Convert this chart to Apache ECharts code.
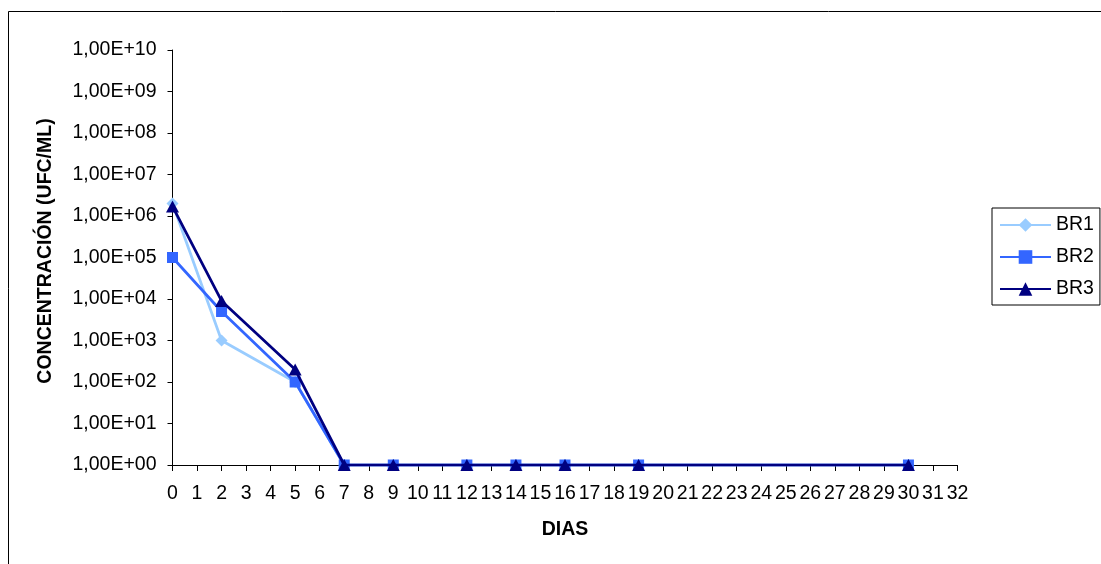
<!DOCTYPE html>
<html>
<head>
<meta charset="utf-8">
<style>
  html, body { margin: 0; padding: 0; background: #fff; }
  #chart { width: 1101px; height: 564px; }
</style>
<script src="https://cdn.jsdelivr.net/npm/echarts@6/dist/echarts.min.js"></script>
</head>
<body>
<div id="chart"></div>
<script>
// Sampling days and bacterial counts (UFC/ML) for each reactor
const days = [0, 2, 5, 7, 9, 12, 14, 16, 19, 30];
const br1 = [2.0e6, 1000, 100, 1, 1, 1, 1, 1, 1, 1];
const br2 = [1.0e5, 5000, 100, 1, 1, 1, 1, 1, 1, 1];
const br3 = [1.7e6, 9000, 200, 1, 1, 1, 1, 1, 1, 1];
const seriesNames = ['BR1', 'BR2', 'BR3'];
const xTitle = 'DIAS';
const yTitle = 'CONCENTRACIÓN (UFC/ML)';

const FONT = '"Liberation Sans", Arial, sans-serif';

function sciLabel(v) {
  const e = Math.round(Math.log10(v));
  return '1,00E+' + (e < 10 ? '0' + e : String(e));
}

function pairs(vals) {
  return days.map((d, i) => [d, vals[i]]);
}

const chart = echarts.init(document.getElementById('chart'), null, { renderer: 'canvas' });

const option = {
  animation: false,
  backgroundColor: '#ffffff',
  textStyle: { fontFamily: FONT },
  grid: { left: 172.5, right: 143.5, top: 50, bottom: 99 },
  graphic: [
    {
      type: 'rect',
      shape: { x: 8.5, y: 11.5, width: 1200, height: 1000 },
      style: { fill: 'none', stroke: '#000', lineWidth: 1 },
      silent: true
    },
    {
      type: 'text',
      x: 565, y: 530,
      style: {
        text: xTitle, fontFamily: FONT, fontSize: 19.5, fontWeight: 'bold',
        fill: '#000', align: 'center', verticalAlign: 'middle'
      }
    },
    {
      type: 'text',
      x: 45.5, y: 251,
      rotation: Math.PI / 2,
      style: {
        text: yTitle, fontFamily: FONT, fontSize: 19.5, fontWeight: 'bold',
        fill: '#000', align: 'center', verticalAlign: 'middle'
      }
    }
  ],
  legend: {
    orient: 'vertical',
    left: 992, top: 208,
    width: 100,
    padding: [7, 6, 6, 7],
    borderColor: '#000',
    borderWidth: 1,
    itemWidth: 51,
    itemHeight: 17,
    itemGap: 12,
    textStyle: { fontFamily: FONT, fontSize: 19.5, color: '#000', padding: [0, 0, 0, 0] },
    data: seriesNames
  },
  xAxis: {
    type: 'value',
    min: 0, max: 32, interval: 1,
    axisLine: { show: true, lineStyle: { color: '#000', width: 1 } },
    axisTick: { show: true, inside: false, length: 6, lineStyle: { color: '#000' } },
    axisLabel: { color: '#000', fontFamily: FONT, fontSize: 19.5, margin: 19 },
    splitLine: { show: false }
  },
  yAxis: {
    type: 'log',
    logBase: 10,
    min: 1, max: 1e10,
    interval: 1,
    axisLine: { show: true, lineStyle: { color: '#000', width: 1 } },
    axisTick: { show: true, inside: false, length: 5, lineStyle: { color: '#000' } },
    axisLabel: { color: '#000', fontFamily: FONT, fontSize: 19.5, margin: 16, formatter: sciLabel },
    splitLine: { show: false },
    minorTick: { show: false }
  },
  series: [
    {
      name: seriesNames[0], type: 'line', data: pairs(br1),
      symbol: 'diamond', symbolSize: 12,
      itemStyle: { color: '#99CCFF' },
      lineStyle: { color: '#99CCFF', width: 2.75 },
      z: 2
    },
    {
      name: seriesNames[1], type: 'line', data: pairs(br2),
      symbol: 'rect', symbolSize: 11,
      itemStyle: { color: '#3366FF' },
      lineStyle: { color: '#3366FF', width: 2.75 },
      z: 3
    },
    {
      name: seriesNames[2], type: 'line', data: pairs(br3),
      symbol: 'triangle', symbolSize: [13, 12],
      itemStyle: { color: '#000080' },
      lineStyle: { color: '#000080', width: 2.75 },
      z: 4
    }
  ]
};

chart.setOption(option);
</script>
</body>
</html>
